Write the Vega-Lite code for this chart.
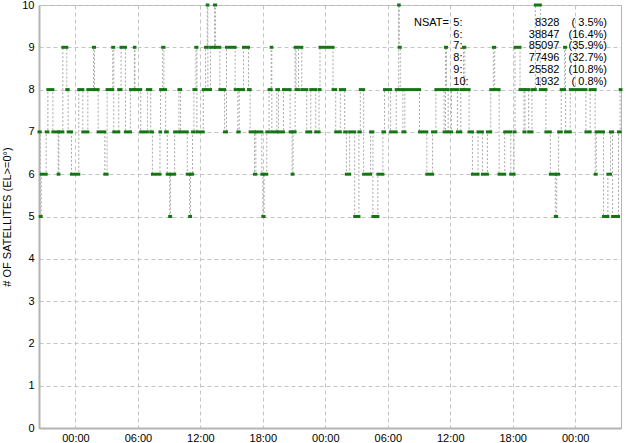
{
  "$schema": "https://vega.github.io/schema/vega-lite/v6.json",
  "autosize": "none",
  "width": 582,
  "height": 423,
  "padding": {"left": 39, "top": 5, "right": 8, "bottom": 15},
  "background": "white",
  "config": {
    "view": {"stroke": "#b4b4b4", "strokeWidth": 1},
    "font": "Liberation Sans",
    "axis": {
      "labelFont": "Liberation Sans", "labelFontSize": 11, "labelColor": "#000000",
      "titleFont": "Liberation Sans", "titleFontSize": 11, "titleFontWeight": "normal", "titleColor": "#000000",
      "domainColor": "#b4b4b4", "domainWidth": 2, "ticks": false,
      "gridColor": "#c4c4c4", "gridDash": [4, 3], "gridWidth": 1
    }
  },
  "resolve": {"scale": {"y": "independent"}},
  "layer": [
    {
      "data": {"values": [
        {"t":20.5,"t2":20.62,"n":7},{"t":20.62,"t2":20.71,"n":5},{"t":20.71,"t2":21.19,"n":6},{"t":21.19,"t2":21.35,"n":7},
        {"t":21.35,"t2":21.83,"n":8},{"t":21.83,"t2":22.34,"n":7},{"t":22.34,"t2":22.41,"n":6},{"t":22.41,"t2":22.79,"n":7},
        {"t":22.79,"t2":23.17,"n":9},{"t":23.17,"t2":23.3,"n":8},{"t":23.3,"t2":23.62,"n":7},{"t":23.62,"t2":24.32,"n":6},
        {"t":24.32,"t2":24.71,"n":8},{"t":24.71,"t2":25.19,"n":7},{"t":25.19,"t2":25.73,"n":8},{"t":25.73,"t2":25.83,"n":9},
        {"t":25.83,"t2":26.18,"n":8},{"t":26.18,"t2":26.82,"n":7},{"t":26.82,"t2":27.04,"n":6},{"t":27.04,"t2":27.58,"n":8},
        {"t":27.58,"t2":27.68,"n":9},{"t":27.68,"t2":28.16,"n":7},{"t":28.16,"t2":28.38,"n":8},{"t":28.38,"t2":28.8,"n":9},
        {"t":28.8,"t2":29.28,"n":7},{"t":29.28,"t2":29.66,"n":8},{"t":29.66,"t2":29.72,"n":9},{"t":29.72,"t2":30.27,"n":8},
        {"t":30.27,"t2":30.91,"n":7},{"t":30.91,"t2":31.23,"n":8},{"t":31.23,"t2":31.39,"n":7},{"t":31.39,"t2":32.12,"n":6},
        {"t":32.12,"t2":32.18,"n":7},{"t":32.18,"t2":32.38,"n":8},{"t":32.38,"t2":32.5,"n":9},{"t":32.5,"t2":32.66,"n":8},
        {"t":32.66,"t2":32.82,"n":7},{"t":32.82,"t2":33.05,"n":6},{"t":33.05,"t2":33.14,"n":5},{"t":33.14,"t2":33.53,"n":6},
        {"t":33.53,"t2":33.94,"n":7},{"t":33.94,"t2":34.1,"n":8},{"t":34.1,"t2":34.74,"n":7},{"t":34.74,"t2":34.97,"n":6},
        {"t":34.97,"t2":35.06,"n":5},{"t":35.06,"t2":35.25,"n":6},{"t":35.25,"t2":35.38,"n":7},{"t":35.38,"t2":35.57,"n":8},
        {"t":35.57,"t2":35.67,"n":9},{"t":35.67,"t2":36.28,"n":7},{"t":36.28,"t2":36.5,"n":8},{"t":36.5,"t2":36.66,"n":9},
        {"t":36.66,"t2":36.72,"n":10},{"t":36.72,"t2":36.98,"n":8},{"t":36.98,"t2":37.36,"n":9},{"t":37.36,"t2":37.46,"n":10},
        {"t":37.46,"t2":37.87,"n":9},{"t":37.87,"t2":38.32,"n":8},{"t":38.32,"t2":38.51,"n":7},{"t":38.51,"t2":39.34,"n":9},
        {"t":39.34,"t2":39.6,"n":8},{"t":39.6,"t2":39.73,"n":7},{"t":39.73,"t2":40.14,"n":8},{"t":40.14,"t2":40.62,"n":9},
        {"t":40.62,"t2":40.78,"n":8},{"t":40.78,"t2":41.2,"n":7},{"t":41.2,"t2":41.33,"n":6},{"t":41.33,"t2":41.9,"n":7},
        {"t":41.9,"t2":42.0,"n":6},{"t":42.0,"t2":42.12,"n":5},{"t":42.12,"t2":42.38,"n":6},{"t":42.38,"t2":42.6,"n":7},
        {"t":42.6,"t2":42.8,"n":8},{"t":42.8,"t2":42.86,"n":9},{"t":42.86,"t2":43.34,"n":7},{"t":43.34,"t2":43.5,"n":8},
        {"t":43.5,"t2":43.98,"n":7},{"t":43.98,"t2":44.62,"n":8},{"t":44.62,"t2":44.81,"n":7},{"t":44.81,"t2":44.9,"n":6},
        {"t":44.9,"t2":45.1,"n":7},{"t":45.1,"t2":45.19,"n":9},{"t":45.19,"t2":45.42,"n":8},{"t":45.42,"t2":45.74,"n":9},
        {"t":45.74,"t2":46.22,"n":8},{"t":46.22,"t2":46.6,"n":7},{"t":46.6,"t2":47.08,"n":8},{"t":47.08,"t2":47.4,"n":7},
        {"t":47.4,"t2":47.49,"n":8},{"t":47.49,"t2":48.74,"n":9},{"t":48.74,"t2":49.0,"n":8},{"t":49.0,"t2":49.44,"n":7},
        {"t":49.44,"t2":49.86,"n":8},{"t":49.86,"t2":50.02,"n":7},{"t":50.02,"t2":50.34,"n":6},{"t":50.34,"t2":50.82,"n":7},
        {"t":50.82,"t2":51.23,"n":5},{"t":51.23,"t2":51.36,"n":7},{"t":51.36,"t2":51.68,"n":8},{"t":51.68,"t2":52.35,"n":6},
        {"t":52.35,"t2":52.57,"n":7},{"t":52.57,"t2":53.05,"n":5},{"t":53.05,"t2":53.53,"n":6},{"t":53.53,"t2":53.69,"n":7},
        {"t":53.69,"t2":54.27,"n":8},{"t":54.27,"t2":54.81,"n":7},{"t":54.81,"t2":55.04,"n":8},{"t":55.04,"t2":55.1,"n":10},
        {"t":55.1,"t2":55.2,"n":9},{"t":55.2,"t2":55.45,"n":8},{"t":55.45,"t2":55.64,"n":7},{"t":55.64,"t2":57.05,"n":8},
        {"t":57.05,"t2":57.75,"n":7},{"t":57.75,"t2":58.3,"n":6},{"t":58.3,"t2":58.62,"n":7},{"t":58.62,"t2":59.41,"n":8},
        {"t":59.41,"t2":59.54,"n":7},{"t":59.54,"t2":59.64,"n":9},{"t":59.64,"t2":59.8,"n":8},{"t":59.8,"t2":60.12,"n":7},
        {"t":60.12,"t2":60.69,"n":8},{"t":60.69,"t2":61.01,"n":7},{"t":61.01,"t2":61.27,"n":8},{"t":61.27,"t2":61.4,"n":9},
        {"t":61.4,"t2":61.81,"n":8},{"t":61.81,"t2":62.13,"n":7},{"t":62.13,"t2":62.67,"n":6},{"t":62.67,"t2":63.09,"n":7},
        {"t":63.09,"t2":63.57,"n":6},{"t":63.57,"t2":63.89,"n":7},{"t":63.89,"t2":64.14,"n":8},{"t":64.14,"t2":64.27,"n":9},
        {"t":64.27,"t2":64.69,"n":8},{"t":64.69,"t2":65.23,"n":6},{"t":65.23,"t2":65.81,"n":7},{"t":65.81,"t2":66.13,"n":6},
        {"t":66.13,"t2":66.22,"n":7},{"t":66.22,"t2":66.7,"n":9},{"t":66.7,"t2":67.08,"n":8},{"t":67.08,"t2":67.18,"n":7},
        {"t":67.18,"t2":67.53,"n":8},{"t":67.53,"t2":67.85,"n":7},{"t":67.85,"t2":68.17,"n":8},{"t":68.17,"t2":68.65,"n":10},
        {"t":68.65,"t2":69.19,"n":8},{"t":69.19,"t2":69.61,"n":7},{"t":69.61,"t2":70.09,"n":6},{"t":70.09,"t2":70.22,"n":5},
        {"t":70.22,"t2":70.41,"n":6},{"t":70.41,"t2":70.66,"n":7},{"t":70.66,"t2":70.98,"n":8},{"t":70.98,"t2":71.08,"n":9},
        {"t":71.08,"t2":71.53,"n":7},{"t":71.53,"t2":73.03,"n":8},{"t":73.03,"t2":73.44,"n":7},{"t":73.44,"t2":73.92,"n":8},
        {"t":73.92,"t2":74.02,"n":6},{"t":74.02,"t2":74.72,"n":7},{"t":74.72,"t2":75.14,"n":5},{"t":75.14,"t2":75.39,"n":6},
        {"t":75.39,"t2":75.59,"n":7},{"t":75.59,"t2":76.16,"n":5},{"t":76.16,"t2":76.32,"n":7},{"t":76.32,"t2":76.4,"n":8}
      ]},
      "encoding": {
        "x": {
          "field": "t", "type": "quantitative",
          "scale": {"domain": [20.5, 76.4], "nice": false, "zero": false},
          "axis": {
            "title": null, "values": [24, 30, 36, 42, 48, 54, 60, 66, 72],
            "labelExpr": "(datum.value % 24 < 10 ? '0' : '') + (datum.value % 24) + ':00'",
            "labelPadding": 4, "labelFlush": false
          }
        },
        "y": {
          "field": "n", "type": "quantitative",
          "scale": {"domain": [0, 10], "nice": false},
          "axis": {
            "title": "# OF SATELLITES (EL>=0°)", "values": [0,1,2,3,4,5,6,7,8,9,10],
            "labelPadding": 5, "titlePadding": 9
          }
        }
      },
      "layer": [
        {"mark": {"type": "line", "interpolate": "step-after", "color": "#a8a8a8", "strokeWidth": 1, "strokeDash": [2, 2]},
         "encoding": {"order": {"field": "t"}}},
        {"mark": {"type": "rule", "color": "#137613", "strokeWidth": 3, "strokeCap": "square"},
         "encoding": {"x2": {"field": "t2"}}}
      ]
    },
    {
      "data": {"values": [
        {"k": 5, "head": "NSAT=", "label": "5:", "count": "8328", "pct": "( 3.5%)"},
        {"k": 6, "head": "", "label": "6:", "count": "38847", "pct": "(16.4%)"},
        {"k": 7, "head": "", "label": "7:", "count": "85097", "pct": "(35.9%)"},
        {"k": 8, "head": "", "label": "8:", "count": "77496", "pct": "(32.7%)"},
        {"k": 9, "head": "", "label": "9:", "count": "25582", "pct": "(10.8%)"},
        {"k": 10, "head": "", "label": "10:", "count": "1932", "pct": "( 0.8%)"}
      ]},
      "encoding": {
        "y": {"field": "k", "type": "quantitative", "scale": {"domain": [5, 10], "range": [17.7, 76.7], "nice": false, "zero": false}, "axis": null}
      },
      "layer": [
        {"mark": {"type": "text", "align": "left", "baseline": "middle", "font": "Liberation Sans", "fontSize": 11, "color": "#000000"},
         "encoding": {"x": {"datum": 56.52, "type": "quantitative"}, "text": {"field": "head"}}},
        {"mark": {"type": "text", "align": "left", "baseline": "middle", "font": "Liberation Sans", "fontSize": 11, "color": "#000000"},
         "encoding": {"x": {"datum": 60.29, "type": "quantitative"}, "text": {"field": "label"}}},
        {"mark": {"type": "text", "align": "right", "baseline": "middle", "font": "Liberation Sans", "fontSize": 11, "color": "#000000"},
         "encoding": {"x": {"datum": 70.49, "type": "quantitative"}, "text": {"field": "count"}}},
        {"mark": {"type": "text", "align": "right", "baseline": "middle", "font": "Liberation Sans", "fontSize": 11, "color": "#000000"},
         "encoding": {"x": {"datum": 75.06, "type": "quantitative"}, "text": {"field": "pct"}}}
      ]
    }
  ]
}
